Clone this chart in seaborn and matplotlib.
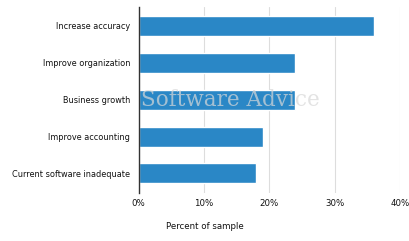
import matplotlib
matplotlib.use("Agg")
import matplotlib.pyplot as plt
import seaborn as sns
import pandas as pd

categories = ["Increase accuracy", "Improve organization", "Business growth",
              "Improve accounting", "Current software inadequate"]
values = [36, 24, 24, 19, 18]
tick_values = [0, 10, 20, 30, 40]
tick_labels = ["0%", "10%", "20%", "30%", "40%"]

df = pd.DataFrame({"category": categories, "value": values})

sns.set_theme(style="white")
plt.rcParams['font.family'] = ['DejaVu Sans']

fig = plt.figure(figsize=(4.10, 2.41), dpi=100)
ax = fig.add_axes([138.5/410, 1-193/241, (400-138.5)/410, (193-7)/241])

sns.barplot(data=df, x="value", y="category", color="#2a87c6", width=0.54,
            saturation=1, ax=ax, zorder=3)

ax.set_xlim(0, 40)
ax.set_ylim(4.53, -0.51)
ax.set_xticks(tick_values)
ax.set_xticklabels(tick_labels, fontsize=6.2, color="#111111")
ax.tick_params(axis='y', labelsize=5.9, length=0, pad=6, labelcolor="#111111")
ax.tick_params(axis='x', length=0, pad=4)
ax.grid(axis='x', color='#dddddd', linewidth=0.8, zorder=0)
for s in ['top', 'right', 'bottom']:
    ax.spines[s].set_visible(False)
ax.spines['left'].set_color('#333333')
ax.spines['left'].set_linewidth(1.0)
ax.spines['left'].set_zorder(4)
ax.set_ylabel("")
ax.set_xlabel("Percent of sample", fontsize=6.2, color="#111111")
ax.xaxis.set_label_coords(0.254, -0.155)

ax.text(0.01, 2.0, "Software Advice", fontsize=15.5, family="DejaVu Serif",
        color="#d8d8d8", alpha=0.7, va="center", ha="left", zorder=5,
        transform=ax.get_yaxis_transform())

fig.savefig("out.png", dpi=100)
